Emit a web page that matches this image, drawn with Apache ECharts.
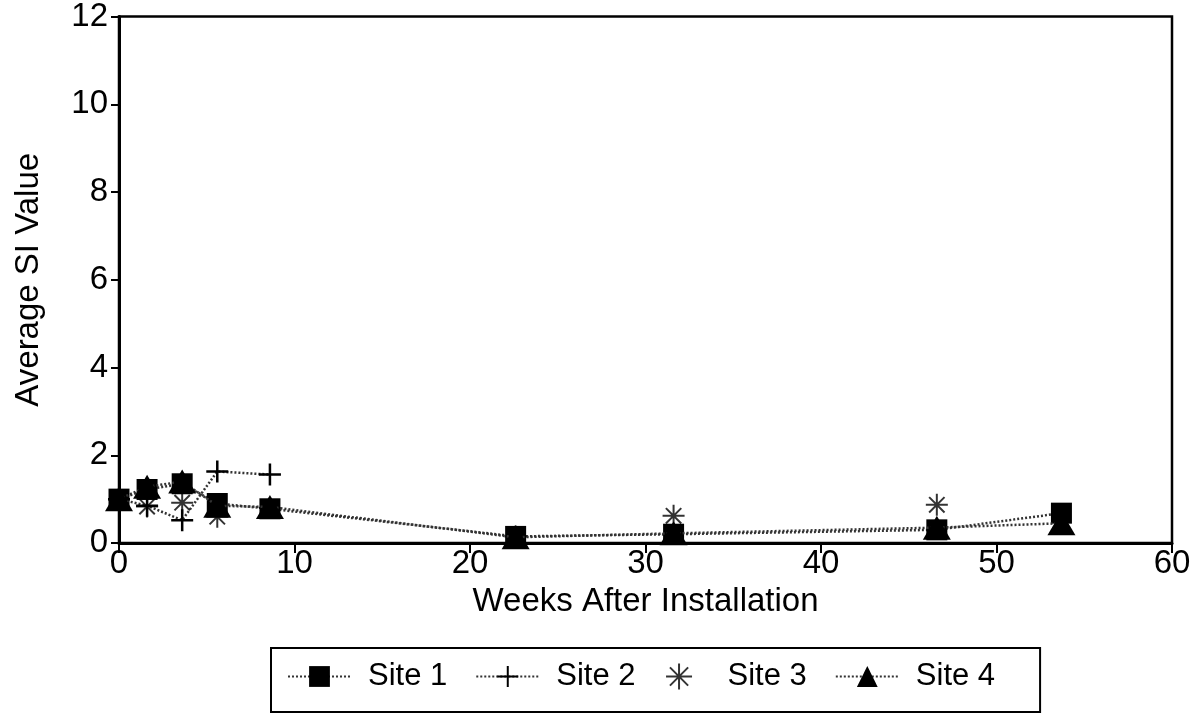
<!DOCTYPE html>
<html>
<head>
<meta charset="utf-8">
<script src="https://cdn.jsdelivr.net/npm/echarts@6/dist/echarts.min.js"></script>
<style>
html,body{margin:0;padding:0;background:#fff;}
#chart{width:1201px;height:721px;}
</style>
</head>
<body>
<div id="chart"></div>
<script>
var weeks = [0, 1.6, 3.6, 5.6, 8.6, 22.6, 31.6, 46.6, 53.7];
var site1 = [1.0, 1.22, 1.35, 0.9, 0.78, 0.15, 0.2, 0.3, 0.68];
var site2Weeks = [0, 1.6, 3.6, 5.6, 8.6];
var site2 = [1.0, 0.85, 0.52, 1.63, 1.56];
var site3Weeks = [0, 1.6, 3.6, 5.6, 8.6, 22.6, 31.6, 46.6];
var site3 = [1.0, 0.83, 0.92, 0.6, 0.8, 0.15, 0.62, 0.87];
var site4 = [1.0, 1.28, 1.4, 0.85, 0.82, 0.13, 0.22, 0.35, 0.45];
var seriesNames = ['Site 1', 'Site 2', 'Site 3', 'Site 4'];
var xTicks = [0, 10, 20, 30, 40, 50, 60];
var yTicks = [0, 2, 4, 6, 8, 10, 12];

function pairs(xs, ys) { return xs.map(function (x, i) { return [x, ys[i]]; }); }

var FONT = '"Liberation Sans", Arial, Helvetica, sans-serif';
var FS = 33;
var plusPath = 'path://M0,10 L20,10 M10,0 L10,20';
var starPath = 'path://M10,0 L10,20 M0,10 L20,10 M3,3 L17,17 M3,17 L17,3';
var dotted = { color: '#333', width: 2.5, type: [2, 2] };

var chart = echarts.init(document.getElementById('chart'));
chart.setOption({
  animation: false,
  backgroundColor: '#fff',
  grid: { left: 119, right: 29, top: 16, bottom: 178, show: true, borderColor: '#000', borderWidth: 2.5, backgroundColor: 'transparent' },
  xAxis: {
    type: 'value', min: xTicks[0], max: xTicks[xTicks.length - 1], interval: 10,
    name: 'Weeks After Installation', nameLocation: 'middle', nameGap: 42,
    nameTextStyle: { fontFamily: FONT, fontSize: FS, color: '#000' },
    axisLine: { show: true, lineStyle: { color: '#000', width: 3 } },
    axisTick: { show: true, length: 10, lineStyle: { color: '#000', width: 2 } },
    axisLabel: { fontFamily: FONT, fontSize: FS, color: '#000', margin: 4 },
    splitLine: { show: false }
  },
  yAxis: {
    type: 'value', min: yTicks[0], max: yTicks[yTicks.length - 1], interval: 2,
    name: 'Average SI Value', nameLocation: 'middle', nameGap: 74,
    nameTextStyle: { fontFamily: FONT, fontSize: FS, color: '#000' },
    axisLine: { show: true, lineStyle: { color: '#000', width: 3 } },
    axisTick: { show: true, length: 8, lineStyle: { color: '#000', width: 2 } },
    axisLabel: { fontFamily: FONT, fontSize: FS, color: '#000', margin: 11 },
    splitLine: { show: false }
  },
  legend: {
    left: 271, top: 648,
    padding: [13, 45, 20, 16],
    borderColor: '#000', borderWidth: 2,
    itemWidth: 63, itemHeight: 26, itemGap: 28,
    textStyle: { fontFamily: FONT, fontSize: 31, color: '#000', padding: [0, 0, 0, 12] },
    data: seriesNames
  },
  series: [
    {
      name: seriesNames[0], type: 'line', data: pairs(weeks, site1),
      symbol: 'rect', symbolSize: 21,
      lineStyle: dotted, itemStyle: { color: '#000' }, z: 2
    },
    {
      name: seriesNames[1], type: 'line', data: pairs(site2Weeks, site2),
      symbol: plusPath, symbolSize: 22,
      lineStyle: dotted, itemStyle: { color: 'none', borderColor: '#000', borderWidth: 2.5 }, z: 3
    },
    {
      name: seriesNames[2], type: 'scatter', data: pairs(site3Weeks, site3),
      symbol: starPath, symbolSize: 22,
      itemStyle: { color: 'none', borderColor: '#000', borderWidth: 2 }, z: 3
    },
    {
      name: seriesNames[3], type: 'line', data: pairs(weeks, site4),
      symbol: 'triangle', symbolSize: [28, 24],
      lineStyle: dotted, itemStyle: { color: '#000' }, z: 4
    }
  ]
});
</script>
</body>
</html>
